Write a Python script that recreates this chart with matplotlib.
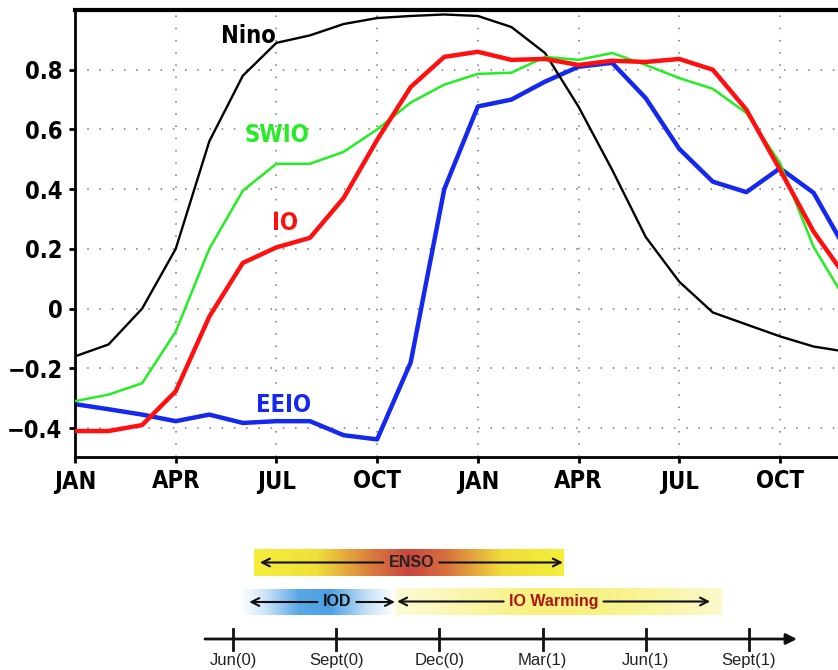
import numpy as np
import matplotlib
matplotlib.use('Agg')
import matplotlib.pyplot as plt
from matplotlib.colors import LinearSegmentedColormap

# monthly composites, JAN(0) .. DEC(1)
months = np.arange(24)
nino = [-0.16, -0.12, 0.0, 0.2, 0.56, 0.78, 0.89, 0.915, 0.953, 0.973, 0.98, 0.985,
        0.98, 0.943, 0.856, 0.676, 0.465, 0.24, 0.09, -0.013, -0.053, -0.093, -0.127, -0.145]
io = [-0.41, -0.41, -0.39, -0.277, -0.027, 0.153, 0.205, 0.237, 0.37, 0.565, 0.742, 0.843,
      0.86, 0.833, 0.836, 0.816, 0.83, 0.826, 0.836, 0.80, 0.666, 0.465, 0.258, 0.10]
swio = [-0.31, -0.288, -0.25, -0.077, 0.2, 0.395, 0.485, 0.485, 0.525, 0.6, 0.69, 0.75,
        0.786, 0.79, 0.843, 0.833, 0.856, 0.816, 0.772, 0.736, 0.655, 0.488, 0.207, 0.02]
eeio = [-0.32, -0.337, -0.355, -0.377, -0.355, -0.383, -0.377, -0.377, -0.424, -0.438, -0.18, 0.40,
        0.677, 0.70, 0.76, 0.81, 0.823, 0.705, 0.535, 0.425, 0.39, 0.47, 0.388, 0.19]
month_ticks = [0, 3, 6, 9, 12, 15, 18, 21]
month_labels = ['JAN', 'APR', 'JUL', 'OCT', 'JAN', 'APR', 'JUL', 'OCT']
y_ticks = [-0.4, -0.2, 0, 0.2, 0.4, 0.6, 0.8]
y_labels = ['\u22120.4', '\u22120.2', '0', '0.2', '0.4', '0.6', '0.8']

# timeline (months after Jun(0))
tl_ticks = [0, 3, 6, 9, 12, 15]
tl_labels = ['Jun(0)', 'Sept(0)', 'Dec(0)', 'Mar(1)', 'Jun(1)', 'Sept(1)']
events = ['ENSO', 'IOD', 'IO Warming']
ev_start = [0.6, 0.2, 4.7]
ev_end = [9.6, 4.7, 14.2]
arrow_start = [0.78, 0.47, 4.77]
arrow_end = [9.59, 4.71, 13.87]

cond = dict(fontfamily=['DejaVu Sans'], fontstretch='condensed', fontweight='bold')

fig = plt.figure(figsize=(8.38, 6.7), dpi=100)
ax = fig.add_axes([75 / 838, 1 - 457 / 670, 763 / 838, 447 / 670])

ax.plot(months, nino, color='black', lw=1.7, zorder=3)
ax.plot(months, swio, color='#22ee22', lw=1.8, zorder=3)
ax.plot(months, io, color='#ff1010', lw=3.2, zorder=3)
ax.plot(months, eeio, color='#1428f0', lw=3.2, zorder=2)

ax.set_xlim(0, 763 / 33.57)
ax.set_ylim(-0.497, 1.0)
ax.set_xticks(month_ticks)
ax.set_xticklabels(month_labels)
ax.set_yticks(y_ticks)
ax.set_yticklabels(y_labels)
ax.grid(True, color='#777777', linestyle=(0, (1, 7)), lw=1.1)
ax.set_axisbelow(True)
ax.spines['right'].set_visible(False)
ax.spines['top'].set_linewidth(3)
ax.spines['left'].set_linewidth(2)
ax.spines['bottom'].set_linewidth(2)
ax.tick_params(direction='out', length=4, width=2, pad=5)
for lab in ax.get_yticklabels() + ax.get_xticklabels():
    lab.set_fontfamily(cond['fontfamily'])
    lab.set_fontstretch('condensed')
    lab.set_fontweight('bold')
    lab.set_fontsize(17)

lab_font = dict(fontsize=17, ha='center', va='center', **cond)
ax.text(5.15, 0.912, 'Nino', color='black', **lab_font)
ax.text(6.02, 0.583, 'SWIO', color='#22ee22', **lab_font)
ax.text(6.25, 0.285, 'IO', color='#ff1010', **lab_font)
ax.text(6.2, -0.322, 'EEIO', color='#1428f0', **lab_font)

# ---- timeline below ----
ax2 = fig.add_axes([0, 0, 1, 140 / 670])
px_per_month = 34.4
x0 = -233 / px_per_month
x1 = (838 - 233) / px_per_month

cmaps = [
    LinearSegmentedColormap.from_list('enso', [(0, '#f4ee3a'), (0.2, '#f2e03a'), (0.38, '#da7a3e'),
                                                (0.5, '#c9453f'), (0.62, '#d8703e'), (0.8, '#f0dc3a'),
                                                (1, '#f4f03a')]),
    LinearSegmentedColormap.from_list('iod', [(0, '#ffffff'), (0.15, '#d2e8f8'), (0.38, '#5aa8e6'),
                                               (0.58, '#4ca0e4'), (0.82, '#c4e0f6'), (1, '#ffffff')]),
    LinearSegmentedColormap.from_list('iow', [(0, '#fdfbd8'), (0.45, '#f7f07a'), (0.7, '#f8f38c'),
                                               (1, '#fcf9cc')]),
]
rows = [(576, 549), (615, 589), (615, 588)]
text_colors = ['#222222', '#111111', '#b01515']
grad = np.linspace(0, 1, 256)[None, :]
for i in range(len(events)):
    ax2.imshow(grad, extent=(ev_start[i], ev_end[i], rows[i][0], rows[i][1]),
               cmap=cmaps[i], aspect='auto', interpolation='bilinear')

ax2.set_xlim(x0, x1)
ax2.set_ylim(670, 530)
ax2.axis('off')

renderer = fig.canvas.get_renderer()
inv = ax2.transData.inverted()
for i, name in enumerate(events):
    ymid = (rows[i][0] + rows[i][1]) / 2
    xc = (arrow_start[i] + arrow_end[i]) / 2
    if name == 'IOD':
        xc = 3.02
    t = ax2.text(xc, ymid, name, ha='center', va='center', fontsize=11.5, fontweight='bold',
                 color=text_colors[i], fontfamily=['Liberation Sans', 'DejaVu Sans'])
    bb = t.get_window_extent(renderer)
    tl = inv.transform((bb.x0, bb.y0))[0] - 0.15
    tr = inv.transform((bb.x1, bb.y0))[0] + 0.15
    ax2.annotate('', xy=(arrow_start[i], ymid), xytext=(tl, ymid),
                 arrowprops=dict(arrowstyle='->', lw=1.5, color='#111111', mutation_scale=14,
                                 shrinkA=0, shrinkB=0))
    ax2.annotate('', xy=(arrow_end[i], ymid), xytext=(tr, ymid),
                 arrowprops=dict(arrowstyle='->', lw=1.5, color='#111111', mutation_scale=14,
                                 shrinkA=0, shrinkB=0))

ax2.annotate('', xy=((797 - 233) / px_per_month, 639), xytext=((205 - 233) / px_per_month, 639),
             arrowprops=dict(arrowstyle='-|>', lw=2, color='#111111', mutation_scale=16,
                             shrinkA=0, shrinkB=0))
for m, lab in zip(tl_ticks, tl_labels):
    ax2.plot([m, m], [629, 650], color='#111111', lw=2)
    ax2.text(m, 661, lab, ha='center', va='center', fontsize=12, color='#222222',
             fontfamily=['Liberation Sans', 'DejaVu Sans'])

fig.savefig('out.png', dpi=100)
